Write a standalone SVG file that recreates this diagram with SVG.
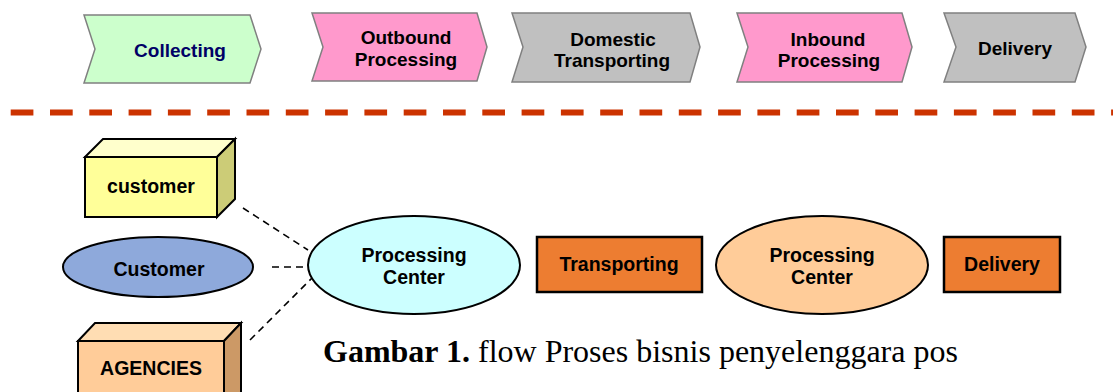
<svg xmlns="http://www.w3.org/2000/svg" width="1113" height="392" viewBox="0 0 1113 392">
  <style>
    .chev { stroke: #808080; stroke-width: 1.5; stroke-linejoin: miter; }
    .lbl { font-family: "Liberation Sans", Arial, sans-serif; font-weight: bold; font-size: 19px; text-anchor: middle; fill: #000000; }
    .lbl2 { font-family: "Liberation Sans", Arial, sans-serif; font-weight: bold; font-size: 19.5px; text-anchor: middle; fill: #000000; }
    .edge { stroke: #000000; stroke-width: 2; }
    .conn { stroke: #000000; stroke-width: 1.6; stroke-dasharray: 7 5; fill: none; }
    .cap { font-family: "Liberation Serif", "Times New Roman", serif; font-size: 32px; fill: #000000; }
  </style>

  <!-- process chain -->
  <g id="collecting">
    <polygon class="chev" fill="#CCFFCC" points="84,15 250,15 261,49 250,83 84,83 95,49"/>
    <text class="lbl" x="180" y="57" fill="#000066" style="fill:#000066">Collecting</text>
  </g>
  <g id="outbound-processing">
    <polygon class="chev" fill="#FF99CC" points="312,13 477,13 487,47 477,81 312,81 323,47"/>
    <text class="lbl" x="406" y="44">Outbound</text>
    <text class="lbl" x="406" y="66">Processing</text>
  </g>
  <g id="domestic-transporting">
    <polygon class="chev" fill="#C0C0C0" points="512,13 690,13 700,47 690,82 512,82 523,47"/>
    <text class="lbl" x="613" y="45.5">Domestic</text>
    <text class="lbl" x="612" y="67">Transporting</text>
  </g>
  <g id="inbound-processing">
    <polygon class="chev" fill="#FF99CC" points="737,13 902,13 912,47 902,82 737,82 748,47"/>
    <text class="lbl" x="828" y="46">Inbound</text>
    <text class="lbl" x="829" y="67">Processing</text>
  </g>
  <g id="delivery-step">
    <polygon class="chev" fill="#C0C0C0" points="944,13 1075,13 1086,47 1075,82 944,82 956,47"/>
    <text class="lbl" x="1015" y="55">Delivery</text>
  </g>

  <!-- separator -->
  <line x1="10.7" y1="112.5" x2="1113" y2="112.5" stroke="#CC3300" stroke-width="6" stroke-dasharray="22.7 16.6"/>

  <!-- sources -->
  <g id="customer-box">
    <polygon class="edge" fill="#FFFFCC" points="85,157 103,139 235,139 217,157"/>
    <polygon class="edge" fill="#CCCC77" points="217,157 235,139 235,199 217,217"/>
    <rect class="edge" fill="#FFFF99" x="85" y="157" width="132" height="60"/>
    <text class="lbl2" x="151" y="193">customer</text>
  </g>
  <g id="customer-ellipse">
    <ellipse class="edge" fill="#8EA9DB" cx="158" cy="267" rx="95" ry="30"/>
    <text class="lbl2" x="159" y="276">Customer</text>
  </g>
  <g id="agencies-box">
    <polygon class="edge" fill="#FFDDB3" points="78,341 95,323 241,323 224,341"/>
    <polygon class="edge" fill="#CC9966" points="224,341 241,323 241,395 224,412"/>
    <rect class="edge" fill="#FFCC99" x="78" y="341" width="146" height="70"/>
    <text class="lbl2" x="151" y="375">AGENCIES</text>
  </g>

  <!-- links into the first processing center -->
  <g id="connectors">
    <line class="conn" x1="243" y1="208" x2="308" y2="250"/>
    <line class="conn" x1="272" y1="267" x2="310" y2="267"/>
    <line class="conn" x1="250" y1="340" x2="312" y2="278"/>
  </g>

  <!-- physical flow -->
  <g id="processing-center-1">
    <ellipse class="edge" fill="#CCFFFF" cx="414" cy="265" rx="106" ry="49"/>
    <text class="lbl2" x="414" y="262">Processing</text>
    <text class="lbl2" x="414" y="284">Center</text>
  </g>
  <g id="transporting">
    <rect x="537" y="237" width="165" height="55" fill="#ED7D31" stroke="#000000" stroke-width="2.5"/>
    <text class="lbl2" x="619" y="271">Transporting</text>
  </g>
  <g id="processing-center-2">
    <ellipse class="edge" fill="#FFCC99" cx="822" cy="265" rx="106" ry="49"/>
    <text class="lbl2" x="822" y="262">Processing</text>
    <text class="lbl2" x="822" y="284">Center</text>
  </g>
  <g id="delivery">
    <rect x="944" y="237" width="116" height="55" fill="#ED7D31" stroke="#000000" stroke-width="2.5"/>
    <text class="lbl2" x="1002" y="271">Delivery</text>
  </g>

  <!-- caption -->
  <text class="cap" x="323" y="362"><tspan font-weight="bold">Gambar 1.</tspan> flow Proses bisnis penyelenggara pos</text>
</svg>
